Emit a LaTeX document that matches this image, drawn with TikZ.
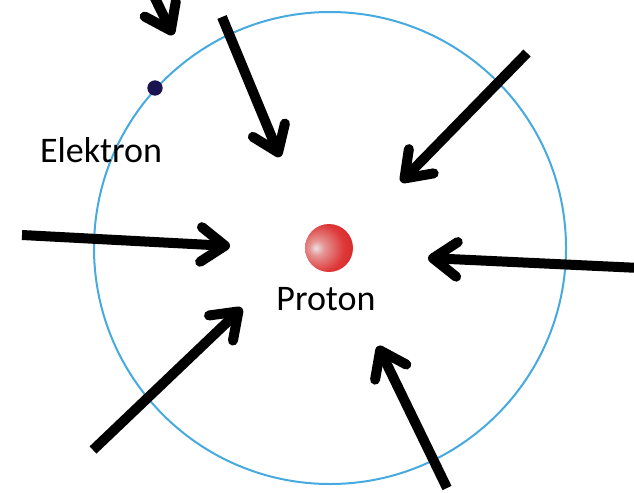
\documentclass[tikz,border=0pt]{standalone}
\usepackage{fontspec}
\setmainfont{Carlito}
\usetikzlibrary{arrows.meta}
\definecolor{orbitblue}{RGB}{70,170,225}
\definecolor{elecnavy}{RGB}{25,20,80}
\pgfdeclareradialshading{protonshade}{\pgfpoint{-14bp}{0bp}}{%
  rgb(0bp)=(0.92,0.88,0.88);
  rgb(8bp)=(0.90,0.58,0.58);
  rgb(25bp)=(0.87,0.22,0.22);
  rgb(50bp)=(0.82,0.07,0.07);
  rgb(80bp)=(0.78,0.04,0.04)}
\tikzset{
  force/.style={line width=7.5pt, -{Straight Barb[length=18pt,width=26pt,round]}},
  lbl/.style={anchor=base, font=\fontsize{27}{32}\selectfont, inner sep=0pt}
}
\begin{document}
\begin{tikzpicture}[x=0.75pt,y=-0.75pt]
\useasboundingbox (0,0) rectangle (634,492);
\node[circle, draw=orbitblue, line width=1.5pt, minimum size=354pt, inner sep=0pt] (orbit) at (330,248) {};
\node[circle, fill=elecnavy, minimum size=11.5pt, inner sep=0pt] (elec) at (155,88) {};
\node[circle, minimum size=36pt, inner sep=0pt, shading=protonshade] (prot) at (329,248) {};
\node[lbl] (el) at (101,162) {Elektron};
\node[lbl] (pl) at (326,310) {Proton};
% arrow endpoints
\coordinate (s1) at (150,-12); \coordinate (t1) at (173,35);
\coordinate (s2) at (222,17);  \coordinate (t2) at (280,157);
\coordinate (s3) at (527,53);  \coordinate (t3) at (401,182);
\coordinate (s4) at (22,235);  \coordinate (t4) at (230,246);
\coordinate (s5) at (640,268); \coordinate (t5) at (428,258);
\coordinate (s6) at (93,450);  \coordinate (t6) at (242,308);
\coordinate (s7) at (447,488); \coordinate (t7) at (378,346);
\foreach \i in {1,...,7} \draw[force] (s\i) -- (t\i);
\end{tikzpicture}
\end{document}
